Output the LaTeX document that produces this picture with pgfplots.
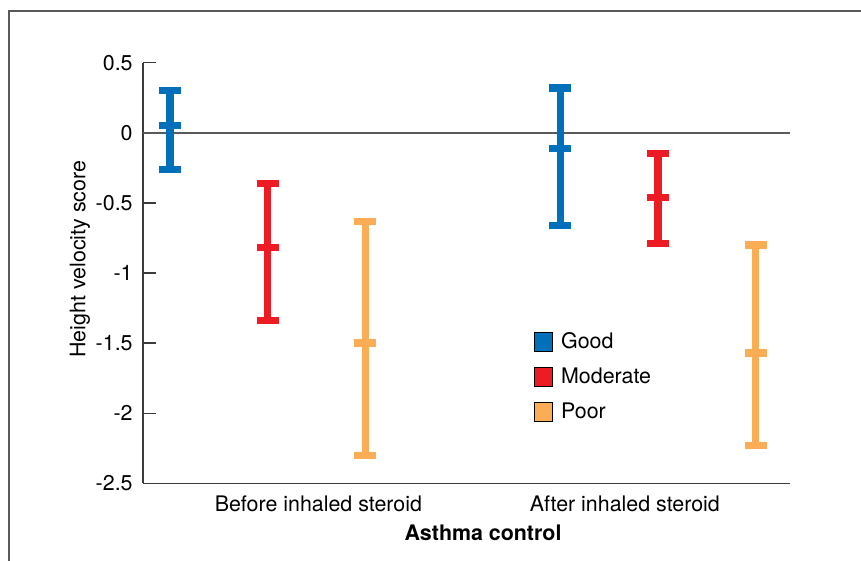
\documentclass[border=0pt]{standalone}
\usepackage{pgfplots}
\pgfplotsset{compat=1.18}
\usepackage{pgfplotstable}
\usepackage{fontspec}
\setmainfont{TeX Gyre Heros}
\definecolor{goodc}{RGB}{0,112,186}
\definecolor{modc}{RGB}{237,28,36}
\definecolor{poorc}{RGB}{250,173,85}
\definecolor{spine}{RGB}{60,60,60}
\definecolor{framec}{RGB}{90,90,90}

% x = position, y = mean, ep = upper error, em = lower error
\pgfplotstableread{
x y ep em
0 0.05 0.25 0.31
4 -0.11 0.43 0.55
}\goodtab
\pgfplotstableread{
x y ep em
1 -0.82 0.46 0.52
5 -0.46 0.31 0.33
}\modtab
\pgfplotstableread{
x y ep em
2 -1.50 0.87 0.80
6 -1.57 0.77 0.66
}\poortab

\begin{document}
\begin{tikzpicture}[font=\fontsize{10.7pt}{12.8pt}\selectfont]
\useasboundingbox (0,0) rectangle (430.5pt,280.5pt);
\draw[line width=0.85pt, framec] (4.5pt,0) -- (4.5pt,275.15pt) -- (431pt,275.15pt);
\begin{axis}[
  at={(71.5pt,38.85pt)}, anchor=south west,
  scale only axis, width=323.5pt, height=210.3pt,
  xmin=-0.277, xmax=6.352, ymin=-2.5, ymax=0.5,
  axis x line*=bottom, axis y line*=left,
  axis line style={spine, line width=0.65pt},
  xtick={1.52,4.66},
  xticklabels={Before inhaled steroid, After inhaled steroid},
  x tick label style={anchor=base, yshift=-14.2pt, inner sep=0pt},
  xtick style={draw=none},
  ytick={-2.5,-2,-1.5,-1,-0.5,0,0.5},
  yticklabels={-2.5,-2,-1.5,-1,-0.5,0,0.5},
  y tick label style={anchor=east, inner sep=0pt, xshift=-5pt},
  ytick style={spine, line width=0.65pt},
  tick align=inside, major tick length=6.5pt,
  /pgf/number format/assume math mode=true,
  ylabel={Height velocity score},
  ylabel style={at={(axis description cs:-0.0974,0.533)}, anchor=center, rotate=0},
  xlabel={\textbf{Asthma control}},
  xlabel style={at={(axis description cs:0.5255,0)}, anchor=base, yshift=-28.4pt, inner sep=0pt},
  clip=false,
  legend style={at={(axis description cs:0.603,0.36)}, anchor=north west, draw=none, fill=none,
     inner sep=0pt, row sep=7.7pt, nodes={inner sep=0pt, anchor=west}},
  legend cell align=left,
  legend image code/.code={\filldraw[draw=black, line width=0.6pt] (0pt,-4.6pt) rectangle (9.2pt,4.6pt);},
  legend columns=1,
]
\addplot[framec, line width=1pt, forget plot] coordinates {(-0.277,0) (6.352,0)};
\addplot[goodc, only marks, mark=-, mark size=5.5pt, mark options={line width=3.6pt}, forget plot,
  error bars/.cd, y dir=both, y explicit,
  error bar style={line width=3.6pt, goodc},
  error mark options={rotate=90, line width=3.6pt, mark size=5.5pt, goodc}]
  table[x=x, y=y, y error plus=ep, y error minus=em] {\goodtab};
\addplot[modc, only marks, mark=-, mark size=5.5pt, mark options={line width=3.6pt}, forget plot,
  error bars/.cd, y dir=both, y explicit,
  error bar style={line width=3.6pt, modc},
  error mark options={rotate=90, line width=3.6pt, mark size=5.5pt, modc}]
  table[x=x, y=y, y error plus=ep, y error minus=em] {\modtab};
\addplot[poorc, only marks, mark=-, mark size=5.5pt, mark options={line width=3.6pt}, forget plot,
  error bars/.cd, y dir=both, y explicit,
  error bar style={line width=3.6pt, poorc},
  error mark options={rotate=90, line width=3.6pt, mark size=5.5pt, poorc}]
  table[x=x, y=y, y error plus=ep, y error minus=em] {\poortab};
\addlegendimage{fill=goodc}
\addlegendentry{\hspace{4pt}Good}
\addlegendimage{fill=modc}
\addlegendentry{\hspace{4pt}Moderate}
\addlegendimage{fill=poorc}
\addlegendentry{\hspace{4pt}Poor}
\end{axis}
\end{tikzpicture}
\end{document}
